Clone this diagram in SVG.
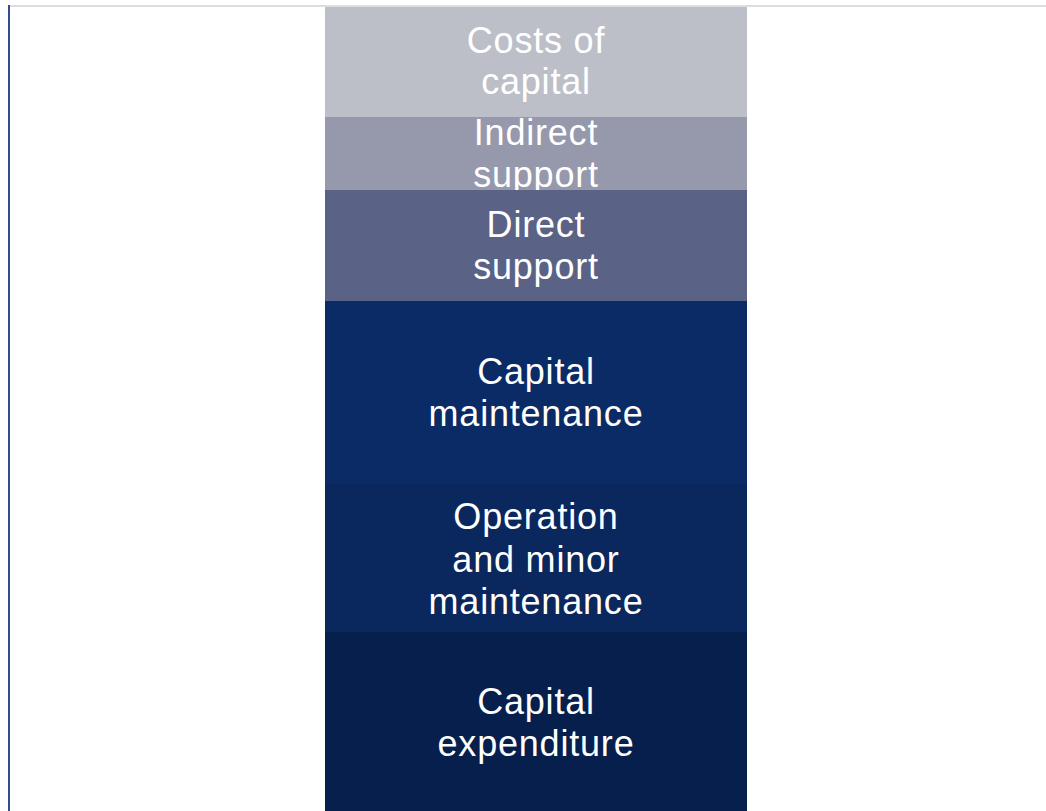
<svg xmlns="http://www.w3.org/2000/svg" width="1046" height="811" viewBox="0 0 1046 811">
<style>
.lbl{font-family:"Liberation Sans",Arial,sans-serif;font-size:36px;letter-spacing:0.8px;fill:#ffffff;text-anchor:middle}
</style>
<rect x="0" y="0" width="1046" height="811" fill="#ffffff"/>
<rect x="8" y="5" width="1038" height="2" fill="#dddddd"/>
<rect x="8" y="5" width="2" height="806" fill="#2f4f8c"/>
<g id="costs-of-capital">
<rect x="325" y="7" width="422" height="110" fill="#bcbfc8"/>
<text class="lbl" x="536" y="53">Costs of</text>
<text class="lbl" x="536" y="94">capital</text>
</g>
<g id="indirect-support">
<rect x="325" y="117" width="422" height="73" fill="#9698ab"/>
<text class="lbl" x="536" y="145">Indirect</text>
<text class="lbl" x="536" y="187">support</text>
</g>
<g id="direct-support">
<rect x="325" y="190" width="422" height="111" fill="#5a6285"/>
<text class="lbl" x="536" y="237">Direct</text>
<text class="lbl" x="536" y="279">support</text>
</g>
<g id="capital-maintenance">
<rect x="325" y="301" width="422" height="183" fill="#0b2b66"/>
<text class="lbl" x="536" y="384">Capital</text>
<text class="lbl" x="536" y="426">maintenance</text>
</g>
<g id="operation-minor-maintenance">
<rect x="325" y="484" width="422" height="148" fill="#0a275e"/>
<text class="lbl" x="536" y="529">Operation</text>
<text class="lbl" x="536" y="572">and minor</text>
<text class="lbl" x="536" y="614">maintenance</text>
</g>
<g id="capital-expenditure">
<rect x="325" y="632" width="422" height="179" fill="#061f4d"/>
<text class="lbl" x="536" y="714">Capital</text>
<text class="lbl" x="536" y="756">expenditure</text>
</g>
<g id="connectors"></g>
</svg>
